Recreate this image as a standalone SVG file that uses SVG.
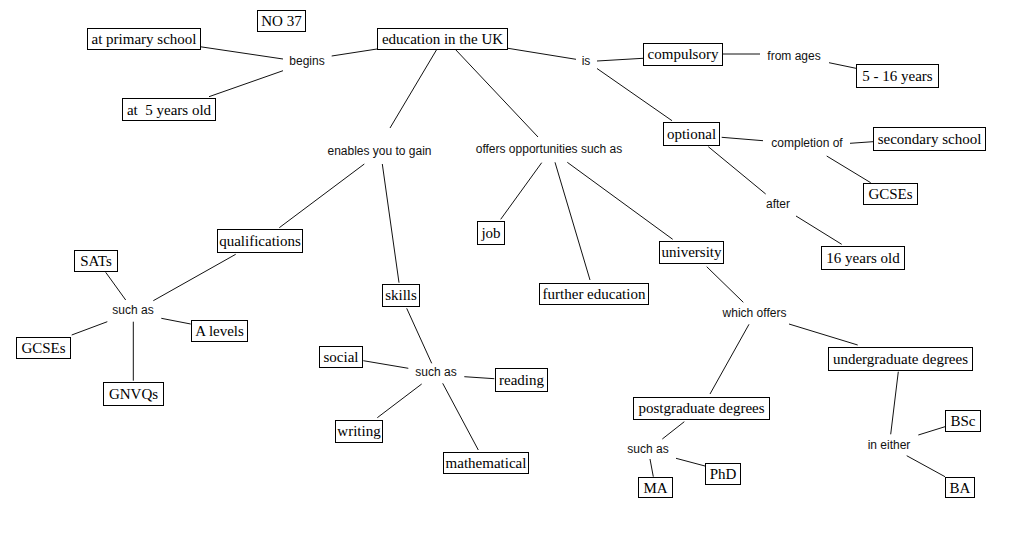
<svg xmlns="http://www.w3.org/2000/svg" width="1029" height="538" viewBox="0 0 1029 538">
<style>
.b rect{fill:#fff;stroke:#000;stroke-width:1}
.b text{font-family:"Liberation Serif","Times New Roman",serif;font-size:15px;fill:#000;text-anchor:middle;white-space:pre}
.l{font-family:"Liberation Sans",Arial,sans-serif;font-size:12px;fill:#111;text-anchor:middle}
#connectors line{stroke:#111;stroke-width:1}
</style>
<rect width="1029" height="538" fill="#fff"/>
<g id="connectors">
<line x1="200" y1="46.7" x2="283" y2="59"/>
<line x1="331.7" y1="56" x2="377" y2="49"/>
<line x1="283" y1="70.7" x2="209" y2="96.7"/>
<line x1="437" y1="49" x2="390" y2="128"/>
<line x1="455" y1="49" x2="538" y2="137"/>
<line x1="508" y1="48.3" x2="576" y2="59.3"/>
<line x1="597" y1="61" x2="643" y2="58.3"/>
<line x1="597" y1="68.5" x2="672" y2="120.7"/>
<line x1="723" y1="54" x2="760" y2="54"/>
<line x1="829" y1="62.7" x2="856" y2="68.3"/>
<line x1="721.7" y1="137.3" x2="763" y2="140.7"/>
<line x1="850" y1="143.3" x2="873" y2="141.7"/>
<line x1="826.7" y1="156" x2="870.7" y2="182.7"/>
<line x1="708.3" y1="146.7" x2="765.7" y2="194"/>
<line x1="796" y1="216" x2="841.7" y2="244.3"/>
<line x1="364.3" y1="164" x2="279.3" y2="227.7"/>
<line x1="382.3" y1="164" x2="399" y2="282.7"/>
<line x1="235.7" y1="254.3" x2="153.3" y2="300.7"/>
<line x1="105.7" y1="272.3" x2="125.7" y2="300"/>
<line x1="161.3" y1="318.3" x2="190.7" y2="324"/>
<line x1="107.3" y1="321.7" x2="71.7" y2="335"/>
<line x1="133.3" y1="321.7" x2="133.3" y2="380.7"/>
<line x1="406.7" y1="308.3" x2="431.7" y2="363.3"/>
<line x1="363.3" y1="360.7" x2="408.3" y2="368.3"/>
<line x1="464.3" y1="376.7" x2="494.3" y2="378.7"/>
<line x1="421.7" y1="384" x2="377.3" y2="417.7"/>
<line x1="442.7" y1="383.3" x2="478.3" y2="450"/>
<line x1="541.7" y1="162.7" x2="500.7" y2="219.3"/>
<line x1="555" y1="162.3" x2="590" y2="280"/>
<line x1="567.3" y1="162.3" x2="672.7" y2="239.3"/>
<line x1="706.7" y1="266.7" x2="743.3" y2="302.3"/>
<line x1="789" y1="324" x2="857.7" y2="345"/>
<line x1="749" y1="324.3" x2="710" y2="394"/>
<line x1="684.3" y1="421.7" x2="662.3" y2="439"/>
<line x1="650" y1="459" x2="653.3" y2="476.7"/>
<line x1="676" y1="458.3" x2="705" y2="466"/>
<line x1="898.3" y1="371.7" x2="890.7" y2="434.3"/>
<line x1="918.3" y1="435" x2="945" y2="426.7"/>
<line x1="906.7" y1="455.7" x2="945" y2="476.7"/>
</g>
<g id="labels">
<text class="l" x="307" y="65">begins</text>
<text class="l" x="586" y="65">is</text>
<text class="l" x="794" y="60">from ages</text>
<text class="l" x="807" y="147">completion of</text>
<text class="l" x="778" y="208">after</text>
<text class="l" x="379.5" y="155">enables you to gain</text>
<text class="l" x="549" y="153">offers opportunities such as</text>
<text class="l" x="133" y="314">such as</text>
<text class="l" x="436" y="376">such as</text>
<text class="l" x="754.5" y="317">which offers</text>
<text class="l" x="648" y="453">such as</text>
<text class="l" x="889" y="449">in either</text>
</g>
<g id="n-no37" class="b"><rect x="257.5" y="10.5" width="48" height="21"/><text x="281.5" y="26">NO 37</text></g>
<g id="n-primary" class="b"><rect x="87.5" y="28.5" width="113" height="21"/><text x="144" y="44">at primary school</text></g>
<g id="n-education" class="b"><rect x="377.5" y="28.5" width="130" height="21"/><text x="442.5" y="44">education in the UK</text></g>
<g id="n-5yo" class="b"><rect x="122.5" y="98.5" width="93" height="22"/><text x="169" y="114.5">at  5 years old</text></g>
<g id="n-compulsory" class="b"><rect x="643.5" y="43.5" width="79" height="22"/><text x="683" y="59">compulsory</text></g>
<g id="n-5-16" class="b"><rect x="856.5" y="64.5" width="82" height="23"/><text x="897.5" y="80.5">5 - 16 years</text></g>
<g id="n-optional" class="b"><rect x="663.5" y="122.5" width="56" height="23"/><text x="691.5" y="138.5">optional</text></g>
<g id="n-secondary" class="b"><rect x="873.5" y="127.5" width="112" height="23"/><text x="929.5" y="143.5">secondary school</text></g>
<g id="n-gcses-r" class="b"><rect x="863.5" y="183.5" width="54" height="21"/><text x="890.5" y="199">GCSEs</text></g>
<g id="n-16yo" class="b"><rect x="821.5" y="246.5" width="83" height="23"/><text x="863" y="262.5">16 years old</text></g>
<g id="n-qualifications" class="b"><rect x="217.5" y="229.5" width="85" height="23"/><text x="260" y="245.5">qualifications</text></g>
<g id="n-job" class="b"><rect x="477.5" y="221.5" width="27" height="23"/><text x="491" y="237.5">job</text></g>
<g id="n-university" class="b"><rect x="659.5" y="241.5" width="64" height="22"/><text x="691.5" y="257">university</text></g>
<g id="n-further" class="b"><rect x="539.5" y="283.5" width="109" height="21"/><text x="594" y="299">further education</text></g>
<g id="n-skills" class="b"><rect x="382.5" y="284.5" width="37" height="22"/><text x="401" y="300">skills</text></g>
<g id="n-sats" class="b"><rect x="74.5" y="250.5" width="43" height="21"/><text x="96" y="266">SATs</text></g>
<g id="n-alevels" class="b"><rect x="191.5" y="320.5" width="56" height="21"/><text x="219.5" y="336">A levels</text></g>
<g id="n-gcses-l" class="b"><rect x="16.5" y="337.5" width="54" height="21"/><text x="43.5" y="353">GCSEs</text></g>
<g id="n-gnvqs" class="b"><rect x="103.5" y="382.5" width="60" height="23"/><text x="133.5" y="398.5">GNVQs</text></g>
<g id="n-social" class="b"><rect x="319.5" y="346.5" width="43" height="21"/><text x="341" y="362">social</text></g>
<g id="n-reading" class="b"><rect x="495.5" y="368.5" width="52" height="23"/><text x="521.5" y="384.5">reading</text></g>
<g id="n-writing" class="b"><rect x="335.5" y="420.5" width="47" height="22"/><text x="359" y="436">writing</text></g>
<g id="n-mathematical" class="b"><rect x="443.5" y="452.5" width="85" height="21"/><text x="486" y="468">mathematical</text></g>
<g id="n-undergrad" class="b"><rect x="828.5" y="347.5" width="144" height="23"/><text x="900.5" y="363.5">undergraduate degrees</text></g>
<g id="n-postgrad" class="b"><rect x="633.5" y="397.5" width="136" height="22"/><text x="701.5" y="413">postgraduate degrees</text></g>
<g id="n-ma" class="b"><rect x="638.5" y="477.5" width="34" height="20"/><text x="655.5" y="492.5">MA</text></g>
<g id="n-phd" class="b"><rect x="705.5" y="463.5" width="35" height="21"/><text x="723" y="479">PhD</text></g>
<g id="n-bsc" class="b"><rect x="945.5" y="410.5" width="35" height="21"/><text x="963" y="426">BSc</text></g>
<g id="n-ba" class="b"><rect x="945.5" y="477.5" width="29" height="20"/><text x="960" y="492.5">BA</text></g>
</svg>
